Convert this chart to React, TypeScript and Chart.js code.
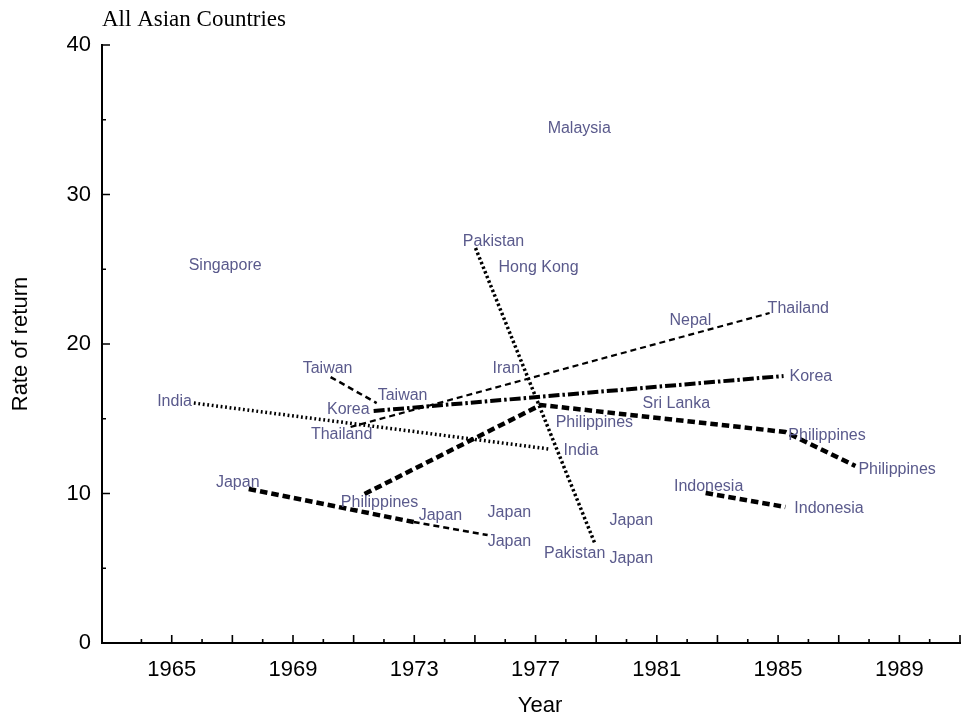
import { useEffect, useRef } from "react";
import { Chart, registerables } from "chart.js";

Chart.register(...registerables);

// Before/after rate-of-return estimates, one pair of arrays per country
const indiaYears = [1965.73, 1977.43];
const indiaRates = [16.05, 12.98];
const pakistanYears = [1975.02, 1978.95];
const pakistanRates = [26.42, 6.69];
const taiwanYears = [1970.24, 1971.76];
const taiwanRates = [17.79, 16.05];
const koreaYears = [1971.66, 1985.18];
const koreaRates = [15.52, 17.86];
const thailandYears = [1970.9, 1984.72];
const thailandRates = [14.45, 22.07];
const philippinesYears = [1971.36, 1977.17, 1985.24, 1987.55];
const philippinesRates = [9.97, 15.92, 14.11, 11.84];
const japanEarlyYears = [1967.54, 1972.98];
const japanEarlyRates = [10.3, 8.09];
const japanLateYears = [1972.98, 1975.42];
const japanLateRates = [8.09, 7.22];
const indonesiaYears = [1982.61, 1985.24];
const indonesiaRates = [10.03, 9.1];

// Countries with a single estimate
const singleNames = ["Singapore", "Malaysia", "Hong Kong", "Iran", "Nepal", "Sri Lanka", "Japan", "Japan", "Japan"];
const singleYears = [1965.46, 1977.3, 1975.68, 1975.48, 1981.32, 1980.43, 1975.32, 1979.34, 1979.34];
const singleRates = [25.35, 34.52, 25.22, 18.46, 21.67, 16.12, 8.83, 8.29, 5.75];

// Axis ticks
const xTickLabels = [1965, 1969, 1973, 1977, 1981, 1985, 1989];
const xMajorTicks = [1965, 1967, 1969, 1971, 1973, 1975, 1977, 1979, 1981, 1983, 1985, 1987, 1989, 1991];
const xMinorTicks = [1964, 1966, 1968, 1970, 1972, 1974, 1976, 1978, 1980, 1982, 1984, 1986, 1988, 1990];
const yTickLabels = [0, 10, 20, 30, 40];
const yMinorTicks = [5, 15, 25, 35];

const LABEL_COLOR = "#5a5a8c";
const SANS = "'Liberation Sans', Arial, Helvetica, sans-serif";
const SERIF = "'Liberation Serif', 'Times New Roman', serif";

type Align = "left" | "right" | "center";
type Place = [number, number, Align];

interface Series {
  name: string;
  years: number[];
  rates: number[];
  width: number;
  dash: number[];
  place: Place[];
}

// Line style and label placement (pixel offset from the point) for each series
const series: Series[] = [
  { name: "India", years: indiaYears, rates: indiaRates, width: 3.5, dash: [1.8, 2.7], place: [[-2, -3, "right"], [15, 0, "left"]] },
  { name: "Pakistan", years: pakistanYears, rates: pakistanRates, width: 3.5, dash: [2.5, 2.5], place: [[18, -8, "center"], [-20, 9, "center"]] },
  { name: "Taiwan", years: taiwanYears, rates: taiwanRates, width: 2.5, dash: [6, 4], place: [[-3, -10, "center"], [1, -9, "left"]] },
  { name: "Korea", years: koreaYears, rates: koreaRates, width: 4, dash: [11, 3, 2.5, 3], place: [[-4, -3, "right"], [6, -1, "left"]] },
  { name: "Thailand", years: thailandYears, rates: thailandRates, width: 2.2, dash: [6, 4], place: [[-9, 6, "center"], [-2, -6, "left"]] },
  { name: "Philippines", years: philippinesYears, rates: philippinesRates, width: 4.5, dash: [7.5, 4], place: [[15, 7, "center"], [15, 16, "left"], [3, 2, "left"], [3, 2, "left"]] },
  { name: "Japan", years: japanEarlyYears, rates: japanEarlyRates, width: 4.5, dash: [7.5, 4], place: [[-11, -8, "center"], [5, -8, "left"]] },
  { name: "Japan", years: japanLateYears, rates: japanLateRates, width: 2.5, dash: [6, 4], place: [[0, 0, "left"], [0, 5, "left"]] },
  { name: "Indonesia", years: indonesiaYears, rates: indonesiaRates, width: 4.5, dash: [7.5, 4], place: [[3, -8, "center"], [9, 0, "left"]] },
];

// the shared Japan vertex is labelled once, by the early segment
const skipLabel = (s: Series, i: number) => s.years === japanLateYears && i === 0;

// textBaseline "middle" sits a little high for these glyphs
const LABEL_SHIFT = 2;

const labelPlugin = {
  id: "countryLabels",
  afterDatasetsDraw(chart: any) {
    const { ctx } = chart;
    const x = chart.scales.x;
    const y = chart.scales.y;
    ctx.save();
    ctx.font = `16px ${SANS}`;
    ctx.fillStyle = LABEL_COLOR;
    ctx.textBaseline = "middle";
    series.forEach((s) => {
      s.years.forEach((yr, i) => {
        if (skipLabel(s, i)) return;
        const [dx, dy, align] = s.place[i];
        ctx.textAlign = align;
        ctx.fillText(s.name, x.getPixelForValue(yr) + dx, y.getPixelForValue(s.rates[i]) + dy + LABEL_SHIFT);
      });
    });
    ctx.textAlign = "left";
    singleNames.forEach((name, i) => {
      ctx.fillText(name, x.getPixelForValue(singleYears[i]) + 3, y.getPixelForValue(singleRates[i]) + LABEL_SHIFT);
    });
    ctx.restore();
  },
};

const framePlugin = {
  id: "frame",
  afterDraw(chart: any) {
    const { ctx, chartArea } = chart;
    const x = chart.scales.x;
    const y = chart.scales.y;
    ctx.save();
    ctx.strokeStyle = "#000";
    ctx.lineWidth = 1.6;
    ctx.beginPath();
    xMajorTicks.forEach((v) => {
      const px = x.getPixelForValue(v);
      ctx.moveTo(px, chartArea.bottom);
      ctx.lineTo(px, chartArea.bottom - 8);
    });
    xMinorTicks.forEach((v) => {
      const px = x.getPixelForValue(v);
      ctx.moveTo(px, chartArea.bottom);
      ctx.lineTo(px, chartArea.bottom - 4);
    });
    yTickLabels.forEach((v) => {
      const py = y.getPixelForValue(v);
      ctx.moveTo(chartArea.left, py);
      ctx.lineTo(chartArea.left + 8, py);
    });
    yMinorTicks.forEach((v) => {
      const py = y.getPixelForValue(v);
      ctx.moveTo(chartArea.left, py);
      ctx.lineTo(chartArea.left + 4, py);
    });
    ctx.stroke();

    ctx.fillStyle = "#000";
    ctx.textBaseline = "middle";
    ctx.font = `23px ${SERIF}`;
    ctx.textAlign = "left";
    ctx.fillText("All Asian Countries", chartArea.left, 20);

    ctx.font = `22px ${SANS}`;
    ctx.textAlign = "center";
    ctx.fillText("Year", (chartArea.left + chartArea.right) / 2 + 9, 706);

    ctx.translate(21, (chartArea.top + chartArea.bottom) / 2);
    ctx.rotate(-Math.PI / 2);
    ctx.fillText("Rate of return", 0, 0);
    ctx.restore();
  },
};

export default function App() {
  const canvasRef = useRef<HTMLCanvasElement | null>(null);

  useEffect(() => {
    if (!canvasRef.current) return;
    const datasets = series.map((s) => ({
      label: s.name,
      data: s.years.map((yr, i) => ({ x: yr, y: s.rates[i] })),
      showLine: true,
      borderColor: "#000",
      borderWidth: s.width,
      borderDash: s.dash,
      pointRadius: 0,
      pointHoverRadius: 0,
      fill: false,
      tension: 0,
    }));
    const chart = new Chart(canvasRef.current, {
      type: "scatter",
      data: { datasets },
      plugins: [labelPlugin, framePlugin],
      options: {
        animation: false,
        responsive: false,
        devicePixelRatio: 1,
        events: [],
        layout: { padding: { top: 45, right: 3, left: 0, bottom: 0 } },
        plugins: {
          legend: { display: false },
          tooltip: { enabled: false },
          title: { display: false },
        },
        scales: {
          x: {
            type: "linear",
            min: 1962.7,
            max: 1991,
            grid: { display: false, drawTicks: false },
            border: { display: true, color: "#000", width: 2 },
            afterBuildTicks: (scale: any) => {
              scale.ticks = xTickLabels.map((v) => ({ value: v }));
            },
            afterFit: (scale: any) => {
              scale.height = 74;
            },
            ticks: {
              autoSkip: false,
              maxRotation: 0,
              padding: 14,
              color: "#000",
              font: { family: SANS, size: 22 },
              callback: (v: any) => String(v),
            },
          },
          y: {
            type: "linear",
            min: 0,
            max: 40,
            grid: { display: false, drawTicks: false },
            border: { display: true, color: "#000", width: 2 },
            afterBuildTicks: (scale: any) => {
              scale.ticks = yTickLabels.map((v) => ({ value: v }));
            },
            afterFit: (scale: any) => {
              scale.width = 102;
            },
            ticks: {
              autoSkip: false,
              padding: 11,
              color: "#000",
              font: { family: SANS, size: 22 },
              callback: (v: any) => String(v),
            },
          },
        },
      },
    } as any);
    return () => chart.destroy();
  }, []);

  return (
    <div style={{ position: "absolute", left: 0, top: 0, width: 963, height: 717, background: "#fff" }}>
      <canvas ref={canvasRef} width={963} height={717} style={{ display: "block" }} />
    </div>
  );
}
